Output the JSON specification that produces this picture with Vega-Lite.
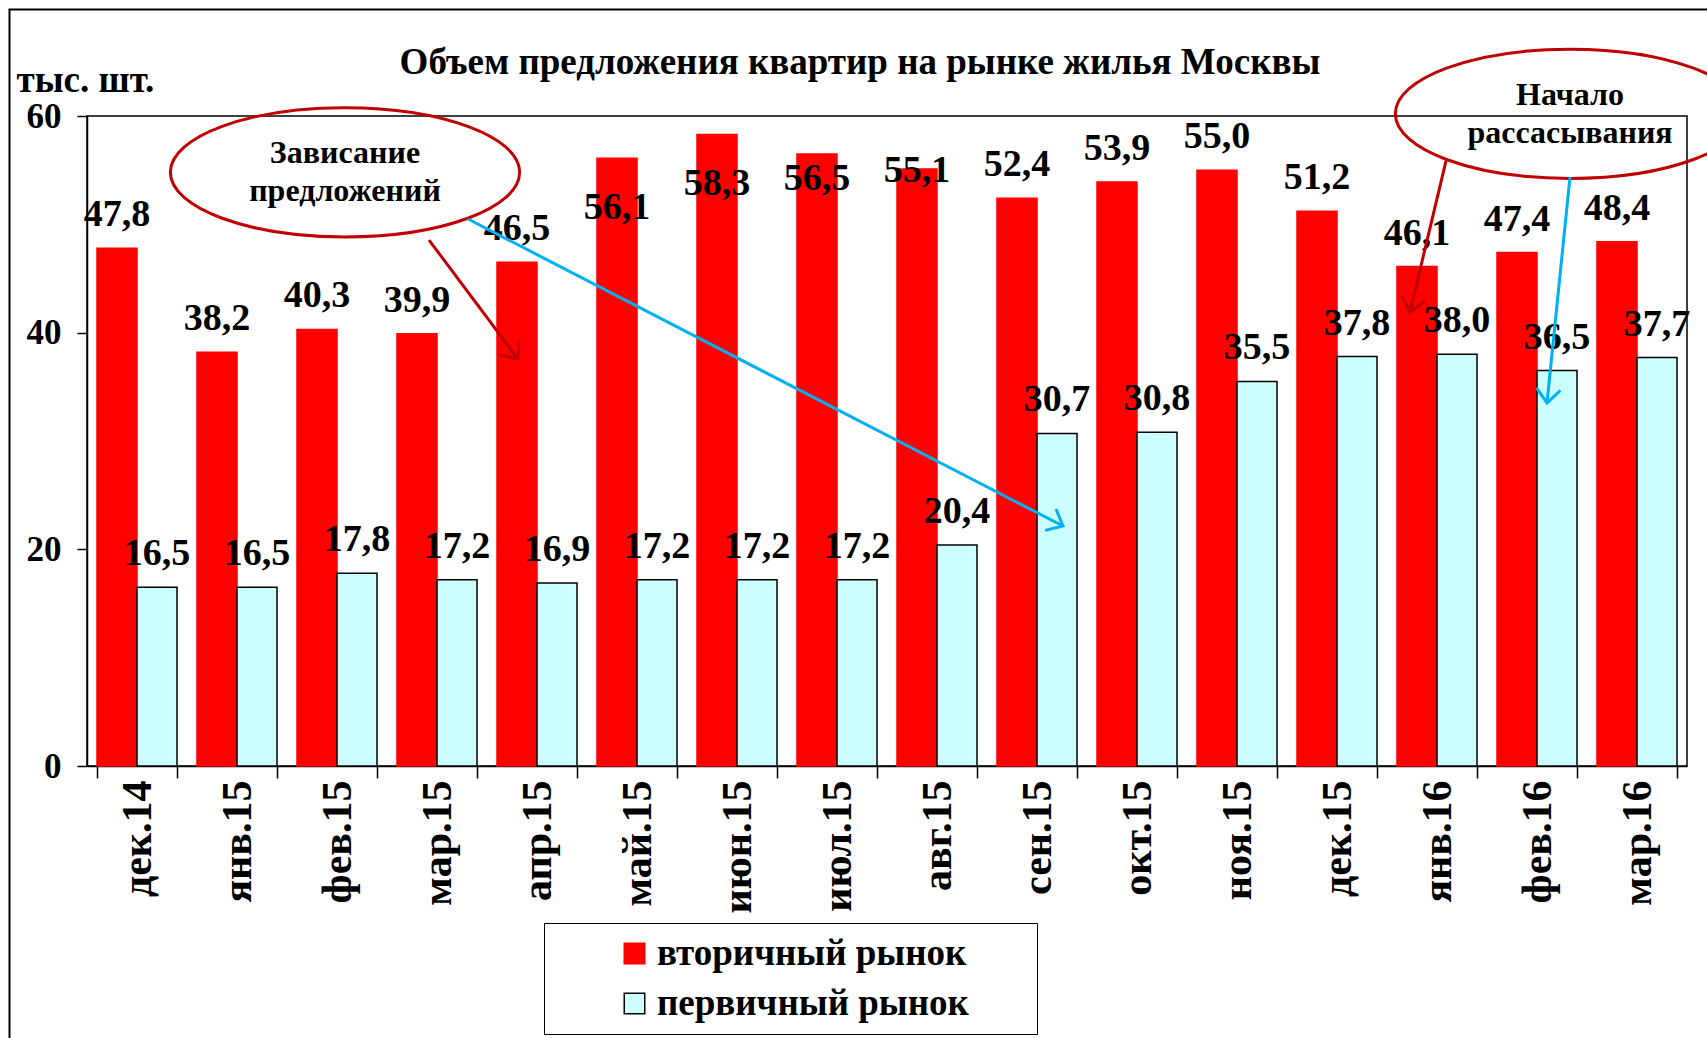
{
  "$schema": "https://vega.github.io/schema/vega-lite/v6.json",
  "width": 1600,
  "height": 650,
  "autosize": {"type": "none"},
  "padding": {"left": 87, "top": 116, "right": 20, "bottom": 272},
  "background": "white",
  "title": {
    "text": "Объем предложения квартир на рынке жилья Москвы",
    "font": "Liberation Serif",
    "fontWeight": "bold",
    "fontSize": 37,
    "color": "black",
    "anchor": "middle",
    "frame": "group",
    "dx": -27,
    "dy": 113,
    "offset": 40
  },
  "datasets": {
    "supply": [
      {"month": "дек.14", "market": "вторичный рынок", "value": 47.8},
      {"month": "янв.15", "market": "вторичный рынок", "value": 38.2},
      {"month": "фев.15", "market": "вторичный рынок", "value": 40.3},
      {"month": "мар.15", "market": "вторичный рынок", "value": 39.9},
      {"month": "апр.15", "market": "вторичный рынок", "value": 46.5},
      {"month": "май.15", "market": "вторичный рынок", "value": 56.1},
      {"month": "июн.15", "market": "вторичный рынок", "value": 58.3},
      {"month": "июл.15", "market": "вторичный рынок", "value": 56.5},
      {"month": "авг.15", "market": "вторичный рынок", "value": 55.1},
      {"month": "сен.15", "market": "вторичный рынок", "value": 52.4},
      {"month": "окт.15", "market": "вторичный рынок", "value": 53.9},
      {"month": "ноя.15", "market": "вторичный рынок", "value": 55.0},
      {"month": "дек.15", "market": "вторичный рынок", "value": 51.2},
      {"month": "янв.16", "market": "вторичный рынок", "value": 46.1},
      {"month": "фев.16", "market": "вторичный рынок", "value": 47.4},
      {"month": "мар.16", "market": "вторичный рынок", "value": 48.4},
      {"month": "дек.14", "market": "первичный рынок", "value": 16.5},
      {"month": "янв.15", "market": "первичный рынок", "value": 16.5},
      {"month": "фев.15", "market": "первичный рынок", "value": 17.8},
      {"month": "мар.15", "market": "первичный рынок", "value": 17.2},
      {"month": "апр.15", "market": "первичный рынок", "value": 16.9},
      {"month": "май.15", "market": "первичный рынок", "value": 17.2},
      {"month": "июн.15", "market": "первичный рынок", "value": 17.2},
      {"month": "июл.15", "market": "первичный рынок", "value": 17.2},
      {"month": "авг.15", "market": "первичный рынок", "value": 20.4},
      {"month": "сен.15", "market": "первичный рынок", "value": 30.7},
      {"month": "окт.15", "market": "первичный рынок", "value": 30.8},
      {"month": "ноя.15", "market": "первичный рынок", "value": 35.5},
      {"month": "дек.15", "market": "первичный рынок", "value": 37.8},
      {"month": "янв.16", "market": "первичный рынок", "value": 38.0},
      {"month": "фев.16", "market": "первичный рынок", "value": 36.5},
      {"month": "мар.16", "market": "первичный рынок", "value": 37.7}
    ],
    "ellipses": [
      {"id": "e1", "x": 2.58, "y": 54.8, "note": "Зависание\nпредложений"},
      {"id": "e2", "x": 14.83, "y": 60.2, "note": "Начало\nрассасывания"}
    ],
    "arrows": [
      {"id": "a1", "x": 3.42, "y": 48.55, "x2": 4.31, "y2": 37.57},
      {"id": "a2", "x": 3.81, "y": 50.49, "x2": 9.76, "y2": 22.15},
      {"id": "a3", "x": 13.59, "y": 55.85, "x2": 13.23, "y2": 41.91},
      {"id": "a4", "x": 14.83, "y": 54.37, "x2": 14.6, "y2": 33.51}
    ],
    "frame": [
      {"x": -0.775, "x2": 17.5, "y": 69.83, "y2": -40}
    ]
  },
  "layer": [
    {
      "data": {"name": "supply"},
      "encoding": {
        "x": {
          "field": "month",
          "type": "nominal",
          "sort": null,
          "scale": {"paddingInner": 0.2, "paddingOuter": 0.1},
          "axis": {
            "title": null,
            "labelAngle": -90,
            "labelAlign": "right",
            "labelBaseline": "middle",
            "labelFont": "Liberation Serif",
            "labelFontWeight": "bold",
            "labelFontSize": 42,
            "labelColor": "black",
            "labelPadding": 2,
            "tickBand": "extent",
            "tickSize": 12,
            "tickColor": "black",
            "tickWidth": 1.5,
            "domainColor": "black",
            "domainWidth": 1.5
          }
        },
        "xOffset": {
          "field": "market",
          "type": "nominal",
          "sort": ["вторичный рынок", "первичный рынок"],
          "scale": {"paddingInner": 0, "paddingOuter": 0}
        },
        "y": {
          "field": "value",
          "type": "quantitative",
          "title": "тыс. шт.",
          "scale": {"domain": [0, 60], "nice": false},
          "axis": {
            "values": [0, 20, 40, 60],
            "grid": false,
            "title": "тыс. шт.",
            "titleAngle": 0,
            "titleAlign": "left",
            "titleBaseline": "middle",
            "titleX": -71,
            "titleY": -36,
            "titleFont": "Liberation Serif",
            "titleFontWeight": "bold",
            "titleFontSize": 37,
            "titleColor": "black",
            "labelFont": "Liberation Serif",
            "labelFontWeight": "bold",
            "labelFontSize": 35,
            "labelColor": "black",
            "labelPadding": 16,
            "tickSize": 10,
            "tickColor": "black",
            "tickWidth": 1.5,
            "domainColor": "black",
            "domainWidth": 1.5
          }
        }
      },
      "layer": [
        {
          "mark": {"type": "bar", "strokeWidth": 1.5},
          "encoding": {
            "fill": {
              "field": "market",
              "type": "nominal",
              "title": null,
              "scale": {"domain": ["вторичный рынок", "первичный рынок"], "range": ["#FF0000", "#CCFFFF"]},
              "legend": {
                "title": null,
                "orient": "none",
                "legendX": 457,
                "legendY": 807,
                "direction": "vertical",
                "strokeColor": "black",
                "padding": 12,
                "symbolType": "square",
                "symbolSize": 420,
                "symbolOffset": 60,
                "symbolStrokeWidth": 1.5,
                "labelFont": "Liberation Serif",
                "labelFontWeight": "bold",
                "labelFontSize": 37,
                "labelColor": "black",
                "labelOffset": 4,
                "labelLimit": 600,
                "labelExpr": "datum.label + '\u00a0\u00a0\u00a0\u00a0\u00a0\u00a0\u200b'",
                "rowPadding": 12
              }
            },
            "stroke": {
              "field": "market",
              "type": "nominal",
              "title": null,
              "scale": {"domain": ["вторичный рынок", "первичный рынок"], "range": ["#FF0000", "#000000"]},
              "legend": {
                "title": null,
                "orient": "none",
                "legendX": 457,
                "legendY": 807,
                "direction": "vertical",
                "strokeColor": "black",
                "padding": 12,
                "symbolType": "square",
                "symbolSize": 420,
                "symbolOffset": 60,
                "symbolStrokeWidth": 1.5,
                "labelFont": "Liberation Serif",
                "labelFontWeight": "bold",
                "labelFontSize": 37,
                "labelColor": "black",
                "labelOffset": 4,
                "labelLimit": 600,
                "labelExpr": "datum.label + '\u00a0\u00a0\u00a0\u00a0\u00a0\u00a0\u200b'",
                "rowPadding": 12
              }
            }
          }
        },
        {
          "transform": [{"filter": "datum.market == 'первичный рынок' || indexof(['май.15','июн.15','июл.15','авг.15'], datum.month) < 0"}],
          "mark": {"type": "text", "font": "Liberation Serif", "fontWeight": "bold", "fontSize": 38, "color": "black", "baseline": "middle", "dy": -33},
          "encoding": {"text": {"field": "value", "type": "quantitative", "format": ".1f"}}
        },
        {
          "transform": [{"filter": "datum.market == 'вторичный рынок' && (datum.month == 'май.15' || datum.month == 'июн.15')"}],
          "mark": {"type": "text", "font": "Liberation Serif", "fontWeight": "bold", "fontSize": 38, "color": "black", "baseline": "middle", "dy": 50},
          "encoding": {"text": {"field": "value", "type": "quantitative", "format": ".1f"}}
        },
        {
          "transform": [{"filter": "datum.market == 'вторичный рынок' && datum.month == 'июл.15'"}],
          "mark": {"type": "text", "font": "Liberation Serif", "fontWeight": "bold", "fontSize": 38, "color": "black", "baseline": "middle", "dy": 25},
          "encoding": {"text": {"field": "value", "type": "quantitative", "format": ".1f"}}
        },
        {
          "transform": [{"filter": "datum.market == 'вторичный рынок' && datum.month == 'авг.15'"}],
          "mark": {"type": "text", "font": "Liberation Serif", "fontWeight": "bold", "fontSize": 38, "color": "black", "baseline": "middle", "dy": 2},
          "encoding": {"text": {"field": "value", "type": "quantitative", "format": ".1f"}}
        }
      ]
    },
    {
      "encoding": {
        "x": {"field": "x", "type": "quantitative", "scale": {"domain": [0, 16], "nice": false, "zero": false}, "axis": null},
        "y": {"field": "y", "type": "quantitative", "title": "тыс. шт.", "scale": {"domain": [0, 60], "nice": false}}
      },
      "layer": [
        {
          "data": {"name": "frame"},
          "mark": {"type": "rect", "fill": null, "fillOpacity": 0, "stroke": "black", "strokeWidth": 2},
          "encoding": {"x2": {"field": "x2"}, "y2": {"field": "y2"}}
        },
        {
          "data": {"name": "ellipses"},
          "mark": {"type": "point", "shape": "M -1 0 A 1 0.37 0 1 1 1 0 A 1 0.37 0 1 1 -1 0 Z", "size": 122000, "filled": false, "stroke": "#C00000", "strokeWidth": 3, "opacity": 1}
        },
        {
          "data": {"name": "ellipses"},
          "mark": {"type": "text", "font": "Liberation Serif", "fontWeight": "bold", "fontSize": 32, "color": "black", "baseline": "middle", "lineBreak": "\n", "lineHeight": 38, "dy": -19},
          "encoding": {"text": {"field": "note", "type": "nominal"}}
        },
        {
          "data": {"name": "arrows"},
          "transform": [{"filter": "datum.id == 'a1' || datum.id == 'a3'"}],
          "mark": {"type": "rule", "color": "#C00000", "strokeWidth": 3},
          "encoding": {"x2": {"field": "x2"}, "y2": {"field": "y2"}}
        },
        {
          "data": {"name": "arrows"},
          "transform": [{"filter": "datum.id == 'a2' || datum.id == 'a4'"}],
          "mark": {"type": "rule", "color": "#00B0F0", "strokeWidth": 3},
          "encoding": {"x2": {"field": "x2"}, "y2": {"field": "y2"}}
        },
        {
          "data": {"name": "arrows"},
          "transform": [{"filter": "datum.id == 'a1'"}],
          "mark": {"type": "point", "shape": "M -0.6 0.7 L 0 0 L 0.6 0.7", "size": 1600, "filled": false, "stroke": "#C00000", "strokeWidth": 3, "opacity": 1, "angle": 143},
          "encoding": {"x": {"field": "x2", "type": "quantitative"}, "y": {"field": "y2", "type": "quantitative"}}
        },
        {
          "data": {"name": "arrows"},
          "transform": [{"filter": "datum.id == 'a2'"}],
          "mark": {"type": "point", "shape": "M -0.6 0.7 L 0 0 L 0.6 0.7", "size": 1600, "filled": false, "stroke": "#00B0F0", "strokeWidth": 3, "opacity": 1, "angle": 117},
          "encoding": {"x": {"field": "x2", "type": "quantitative"}, "y": {"field": "y2", "type": "quantitative"}}
        },
        {
          "data": {"name": "arrows"},
          "transform": [{"filter": "datum.id == 'a3'"}],
          "mark": {"type": "point", "shape": "M -0.6 0.7 L 0 0 L 0.6 0.7", "size": 1600, "filled": false, "stroke": "#C00000", "strokeWidth": 3, "opacity": 1, "angle": 193},
          "encoding": {"x": {"field": "x2", "type": "quantitative"}, "y": {"field": "y2", "type": "quantitative"}}
        },
        {
          "data": {"name": "arrows"},
          "transform": [{"filter": "datum.id == 'a4'"}],
          "mark": {"type": "point", "shape": "M -0.6 0.7 L 0 0 L 0.6 0.7", "size": 1600, "filled": false, "stroke": "#00B0F0", "strokeWidth": 3, "opacity": 1, "angle": 186},
          "encoding": {"x": {"field": "x2", "type": "quantitative"}, "y": {"field": "y2", "type": "quantitative"}}
        }
      ]
    }
  ],
  "resolve": {"scale": {"x": "independent"}, "axis": {"x": "independent"}},
  "config": {
    "locale": {
      "number": {"decimal": ",", "thousands": " ", "grouping": [3], "currency": ["", " ₽"]}
    },
    "view": {"stroke": "black", "strokeWidth": 1.5},
    "font": "Liberation Serif"
  }
}
